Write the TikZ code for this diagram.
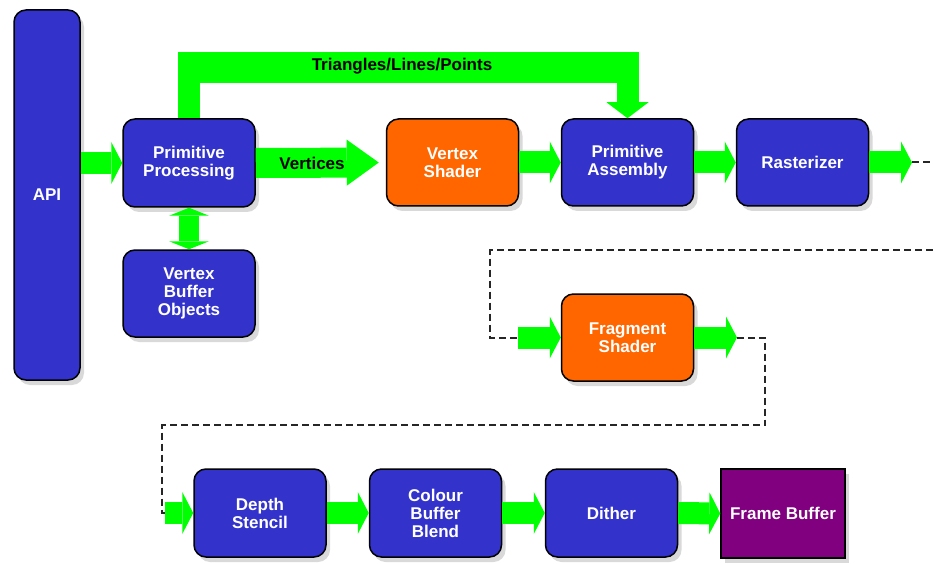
\documentclass[tikz,border=0pt]{standalone}
\usepackage{fontspec}
\setmainfont{Liberation Sans}
\usetikzlibrary{arrows.meta,shadows}
\definecolor{boxblue}{RGB}{51,51,204}
\definecolor{boxorange}{RGB}{255,102,0}
\definecolor{boxpurple}{RGB}{128,0,128}
\definecolor{agreen}{RGB}{0,255,0}
\begin{document}
\begin{tikzpicture}[x=1pt,y=-1pt,
  box/.style={draw=black, line width=1.5pt, rounded corners=12pt, text=white,
    font=\fontsize{17}{18}\selectfont\bfseries, align=center,
    minimum width=132pt, minimum height=88pt, inner sep=0pt,
    drop shadow={shadow xshift=4pt, shadow yshift=-5pt, opacity=0.3}},
  bluebox/.style={box, fill=boxblue},
  orangebox/.style={box, fill=boxorange},
  purplebox/.style={box, fill=boxpurple, rounded corners=0pt},
  garrow/.style={draw=agreen, line width=22pt,
    -{Triangle[length=11pt 0 0, width=42pt 0 0, line width=0pt 0 0]}},
  dline/.style={draw=black!85, line width=2pt, dash pattern=on 7pt off 4pt},
  lbl/.style={text=black, font=\fontsize{17}{18}\selectfont\bfseries, inner sep=0pt}
]
\clip (0,0) rectangle (934,564);
\useasboundingbox (0,0) rectangle (934,564);

% nodes
\node[bluebox, minimum width=66pt, minimum height=370pt] (api) at (47,195) {API};
\node[bluebox] (pp) at (189,163) {Primitive\\Processing};
\node[bluebox, minimum height=87pt] (vbo) at (189,293.5) {Vertex\\Buffer\\Objects};
\node[orangebox, minimum height=87pt] (vs) at (452.5,162.5) {Vertex\\Shader};
\node[bluebox, minimum height=87pt] (pa) at (627.5,162.5) {Primitive\\Assembly};
\node[bluebox, minimum height=87pt] (ra) at (802.5,162.5) {Rasterizer};
\node[orangebox, minimum height=87pt] (fs) at (627.5,337.5) {Fragment\\Shader};
\node[bluebox] (ds) at (260,513) {Depth\\Stencil};
\node[bluebox] (cb) at (435.5,513) {Colour\\Buffer\\Blend};
\node[bluebox] (di) at (611.5,513) {Dither};
\node[purplebox, minimum width=124pt, minimum height=89pt] (fb) at (783,513.5) {Frame Buffer};

% triangles/lines/points path
\coordinate (tl) at (189,67.5);
\coordinate (tr) at (627.5,67.5);
\draw[agreen, line width=31pt] ([xshift=-11pt]tl) -- ([xshift=11pt]tr);
\draw[agreen, line width=22pt] (pp.north) -- (189,52);
\draw[draw=agreen, line width=22pt,
  -{Triangle[length=16pt 0 0, width=42pt 0 0, line width=0pt 0 0]}] (tr) -- (pa.north);
\node[lbl] (tlab) at (402,66) {Triangles/Lines/Points};

% main arrows
\draw[garrow] (api.east |- pp) -- (pp.west);
\draw[draw=agreen, line width=30pt, shorten >=7pt,
  -{Triangle[length=32pt 0 0, width=46pt 0 0, line width=0pt 0 0]}] (pp.east) -- (vs.west);
\node[lbl] (vlab) at (312,163) {Vertices};
\draw[draw=agreen, line width=20pt,
  {Triangle[length=8pt 0 0, width=40pt 0 0, line width=0pt 0 0]}-{Triangle[length=8pt 0 0, width=40pt 0 0, line width=0pt 0 0]}]
  (pp.south) -- (vbo.north);
\draw[garrow] (vs.east) -- (pa.west);
\draw[garrow] (pa.east) -- (ra.west);
\coordinate (rout) at (912,162.5);
\draw[garrow] (ra.east) -- (rout);

% dashed route to fragment shader
\coordinate (fin) at (518,337.5);
\draw[dline] (rout) -- (950,162.5) -- (950,250) -- (490,250) -- (490,337.5) -- (fin);
\draw[garrow] (fin) -- (fs.west);
\coordinate (fout) at (737,337.5);
\draw[garrow] (fs.east) -- (fout);

% dashed route to depth stencil
\coordinate (din) at (165,513);
\draw[dline] (fout) -- (765,337.5) -- (765,425) -- (162,425) -- (162,513) -- (din);
\draw[garrow] (din) -- (ds.west);
\draw[garrow] (ds.east) -- (cb.west);
\draw[garrow] (cb.east) -- (di.west);
\draw[garrow] (di.east) -- (fb.west);
\end{tikzpicture}
\end{document}
